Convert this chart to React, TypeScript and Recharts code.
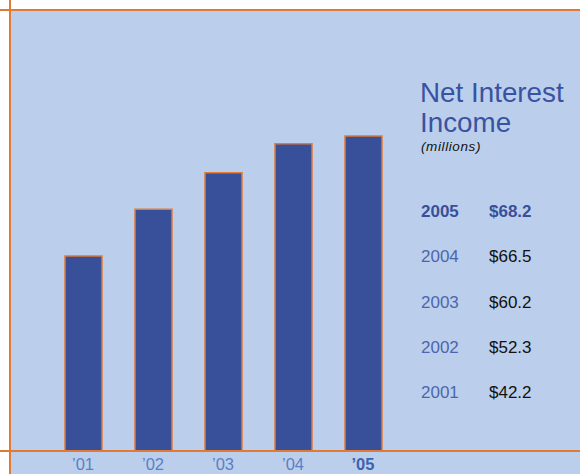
import React from "react";
import { BarChart, Bar, XAxis, YAxis } from "recharts";

const categories = ["’01", "’02", "’03", "’04", "’05"];
const years = ["2001", "2002", "2003", "2004", "2005"];
const values = [42.2, 52.3, 60.2, 66.5, 68.2];
const valueLabels = ["$42.2", "$52.3", "$60.2", "$66.5", "$68.2"];

const data = categories.map((c, i) => ({ name: c, value: values[i] }));

const ORANGE = "#e07a35";
const BG = "#bbcfec";
const BAR = "#384f99";
const FONT = "'Liberation Sans', Arial, sans-serif";

const Tick = (props: any) => {
  const { x, y, payload, index } = props;
  const last = index === categories.length - 1;
  return (
    <text
      x={x}
      y={y}
      dy={11}
      textAnchor="middle"
      fontFamily={FONT}
      fontSize={16.5}
      fontWeight={last ? 700 : 400}
      fill={last ? "#3d63ad" : "#5b7fc4"}
    >
      {payload.value}
    </text>
  );
};

export default function App() {
  const rows = years.map((y, i) => ({ y, v: valueLabels[i] })).reverse();
  return (
    <div style={{ position: "absolute", left: 0, top: 0, width: 580, height: 474, background: "#fff", overflow: "hidden", fontFamily: FONT }}>
      <div style={{ position: "absolute", left: 10, top: 10, width: 570, height: 464, background: BG }} />
      <div style={{ position: "absolute", left: 0, top: 0 }}>
        <BarChart width={580} height={474} data={data} margin={{ top: 10, right: 182, left: 48, bottom: 0 }}>
          <XAxis dataKey="name" height={23} axisLine={false} tickLine={false} tick={<Tick />} interval={0} />
          <YAxis hide domain={[0, 95.45]} />
          <Bar dataKey="value" fill={BAR} stroke={ORANGE} strokeWidth={1.5} barSize={37} isAnimationActive={false} />
        </BarChart>
      </div>
      <div style={{ position: "absolute", left: 0, top: 9, width: 580, height: 2, background: ORANGE }} />
      <div style={{ position: "absolute", left: 0, top: 450, width: 580, height: 2, background: ORANGE }} />
      <div style={{ position: "absolute", left: 9, top: 0, width: 2, height: 474, background: ORANGE }} />
      <div style={{ position: "absolute", left: 420, top: 78, color: "#3a52a0", fontSize: 27.8, lineHeight: "30px", whiteSpace: "nowrap" }}>
        Net Interest<br />Income
      </div>
      <div style={{ position: "absolute", left: 421, top: 139, color: "#111", fontSize: 13.5, letterSpacing: 0.6, fontStyle: "italic", whiteSpace: "nowrap" }}>
        (millions)
      </div>
      {rows.map((r, i) => (
        <div key={r.y} style={{ position: "absolute", left: 421, top: 202 + i * 45.3, fontSize: 17, lineHeight: "20px", whiteSpace: "nowrap", width: 150 }}>
          <span style={{ position: "absolute", left: 0, color: i === 0 ? "#3a4f9a" : "#4d65ad", fontWeight: i === 0 ? 700 : 400 }}>{r.y}</span>
          <span style={{ position: "absolute", left: 68, color: i === 0 ? "#3a4f9a" : "#111", fontWeight: i === 0 ? 700 : 400 }}>{r.v}</span>
        </div>
      ))}
    </div>
  );
}
